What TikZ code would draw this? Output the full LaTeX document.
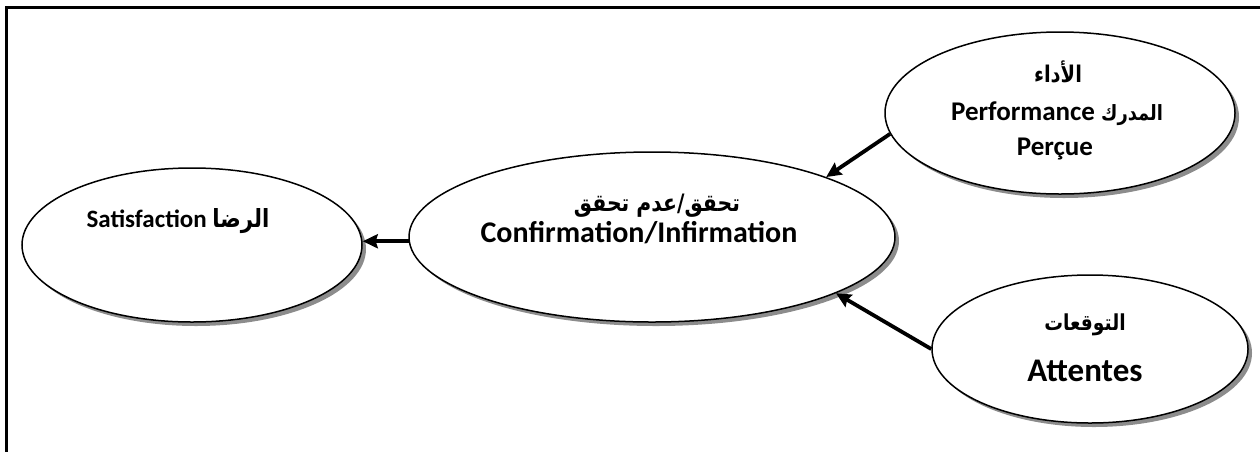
\documentclass[tikz,border=0pt]{standalone}
\usepackage{fontspec}
\setmainfont{Carlito}
\newfontfamily\arabicfont[Script=Arabic,FakeStretch=0.85]{DejaVu Sans}
\TeXXeTstate=1
\usetikzlibrary{shapes.geometric,shadows,arrows.meta}
% size switch for the Arabic words
\newcommand\arsize[1]{\arabicfont\fontsize{#1}{#1}\selectfont}

\begin{document}
\begin{tikzpicture}[x=1pt,y=-1pt,
  bubble/.style={ellipse, draw, line width=1.5pt, fill=white, inner sep=0pt,
    drop shadow={shadow xshift=4pt, shadow yshift=-4pt, opacity=1, fill=black!45}},
  lbl/.style={inner sep=0pt, anchor=base, font=\bfseries\fontsize{#1}{#1}\selectfont},
  lbl/.default=26,
  link/.style={line width=3.8pt, -{Stealth[length=15pt,width=14pt,inset=2pt]}},
  frame/.style={line width=3pt}]
\useasboundingbox (0,0) rectangle (1260,451);
\clip (0,0) rectangle (1260,451);
\draw[frame] (6,7) rectangle (1300,500);

% the four bubbles
\node[bubble, minimum width=340pt, minimum height=154pt] (sat) at (192,245) {};
\node[bubble, minimum width=486pt, minimum height=170pt] (conf) at (652,237) {};
\node[bubble, minimum width=350pt, minimum height=162pt] (perf) at (1060,113) {};
\node[bubble, minimum width=316pt, minimum height=148pt] (att) at (1090,349) {};

% labels
\node[lbl=25] (satT) at (178,227) {Satisfaction {\arsize{25}\beginR الرضا\endR}};
\node[lbl=26] (confA) at (657,211) {{\arsize{24}\beginR تحقق/عدم تحقق\endR}};
\node[lbl=30] (confE) at (639,242) {Confirmation/Infirmation};
\node[lbl=26] (perfA) at (1058,82) {{\arsize{23}\beginR الأداء\endR}};
\node[lbl=27] (perfB) at (1057,120) {Performance {\arsize{21}\beginR المدرك\endR}};
\node[lbl=27] (perfC) at (1055,155) {Perçue};
\node[lbl=26] (attA) at (1085,330) {{\arsize{22}\beginR التوقعات\endR}};
\node[lbl=33] (attE) at (1085,381) {Attentes};

% arrows between the bubbles
\draw[link] (perf.187) -- (conf.19);
\draw[link] (att.180) -- (conf.-17.5);
\draw[link] (conf.181) -- (conf.181 -| sat.east);
\end{tikzpicture}
\end{document}
